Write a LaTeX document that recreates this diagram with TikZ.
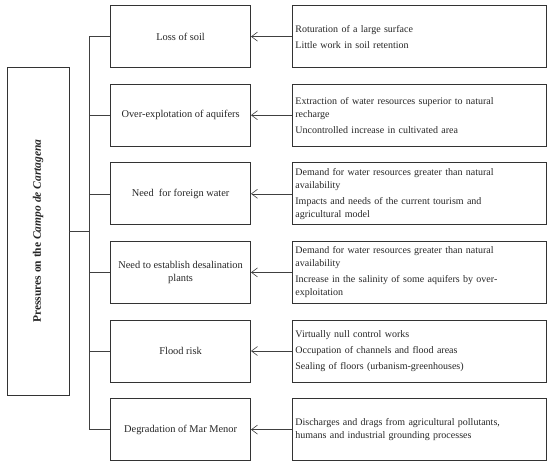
\documentclass[tikz,border=0pt]{standalone}
\usepackage{fontspec}
\setmainfont{Liberation Serif}
\usetikzlibrary{arrows.meta,positioning,matrix}

\begin{document}
\begin{tikzpicture}[x=1pt,y=1pt,pressure/.style={rectangle,draw=black!80,line width=0.8pt,minimum width=140pt,minimum height=62pt,align=center,font=\fontsize{10.4}{12.5}\selectfont,text=black!85}, cause/.style={rectangle,draw=black!80,line width=0.8pt,minimum width=254pt,minimum height=62pt,text width=248pt,align=left,inner sep=2pt,font=\fontsize{10}{13}\selectfont,text=black!85}, edge/.style={line width=0.6pt,draw=black!75,-{Straight Barb[length=6pt,width=9pt]}}, link/.style={line width=0.6pt,draw=black!75}]
\useasboundingbox (0,0) rectangle (550,-463);
\matrix (grid) at (110,-5) [anchor=north west,inner sep=0pt,row sep=15.8pt,column sep=41pt] 
{
\node(p1)[pressure]{Loss of soil};  \pgfmatrixnextcell \node(c1)[cause]{Roturation of a large surface\\[3pt]Little work in soil retention};\\
\node(p2)[pressure]{Over-explotation of aquifers};  \pgfmatrixnextcell \node(c2)[cause]{Extraction of water resources superior to natural\\recharge\\[3pt]Uncontrolled increase in cultivated area};\\
\node(p3)[pressure]{Need\ \ for foreign water};  \pgfmatrixnextcell \node(c3)[cause]{Demand for water resources greater than natural\\availability\\[3pt]Impacts and needs of the current tourism and\\agricultural model};\\
\node(p4)[pressure]{Need to establish desalination\\plants};  \pgfmatrixnextcell \node(c4)[cause]{Demand for water resources greater than natural\\availability\\[3pt]Increase in the salinity of some aquifers by over-\\exploitation};\\
\node(p5)[pressure]{Flood risk};  \pgfmatrixnextcell \node(c5)[cause]{Virtually null control works\\[3pt]Occupation of channels and flood areas\\[3pt]Sealing of floors (urbanism-greenhouses)};\\
\node(p6)[pressure]{Degradation of Mar Menor};  \pgfmatrixnextcell \node(c6)[cause]{Discharges and drags from agricultural pollutants,\\humans and industrial grounding processes};\\
};

\node(lbox)[rectangle,draw=black!80,line width=0.8pt,minimum width=62pt,minimum height=328pt] at (38,-231) {};
\node(ltitle)[rotate=90,font=\fontsize{11.5}{14}\selectfont\bfseries,text=black!85] at (lbox.center) {Pressures on the \textit{Campo de Cartagena}};

\draw [link] (lbox.east) -- ++(20,0) coordinate (bus);
\draw [link] (bus |- p1.west) -- (bus |- p6.west);
\draw [link] (bus |- p1.west) -- (p1.west);
\draw [link] (bus |- p2.west) -- (p2.west);
\draw [link] (bus |- p3.west) -- (p3.west);
\draw [link] (bus |- p4.west) -- (p4.west);
\draw [link] (bus |- p5.west) -- (p5.west);
\draw [link] (bus |- p6.west) -- (p6.west);
\draw [edge] (c1) to (p1);
\draw [edge] (c2) to (p2);
\draw [edge] (c3) to (p3);
\draw [edge] (c4) to (p4);
\draw [edge] (c5) to (p5);
\draw [edge] (c6) to (p6);
\end{tikzpicture}
\end{document}
